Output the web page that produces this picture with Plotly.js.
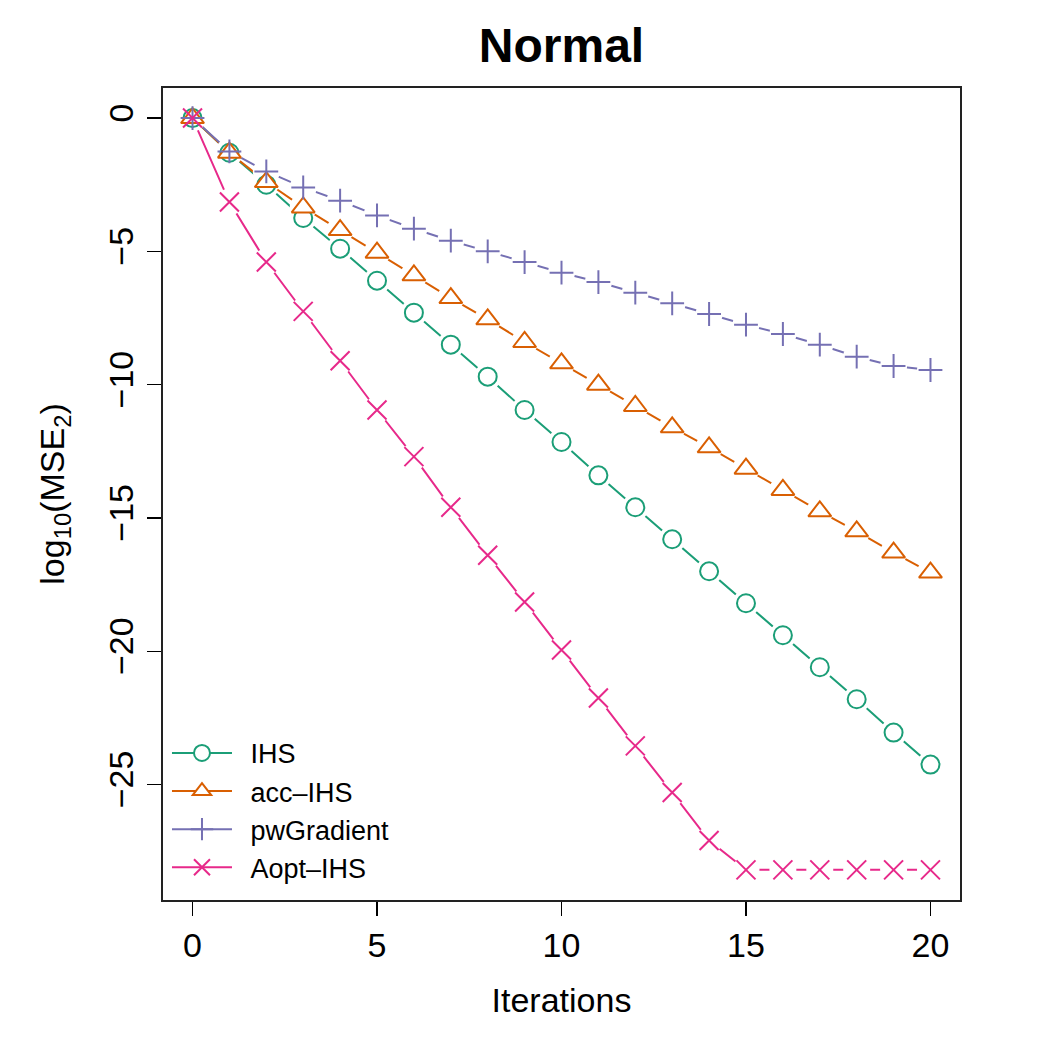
<!DOCTYPE html>
<html>
<head>
<meta charset="utf-8">
<script src="https://cdn.plot.ly/plotly-3.0.1.min.js"></script>
<style>
  html, body { margin: 0; padding: 0; background: #fff; }
  #chart { width: 1050px; height: 1050px; }
</style>
</head>
<body>
<div id="chart"></div>
<script>
// Iteration index
const iterations = [0,1,2,3,4,5,6,7,8,9,10,11,12,13,14,15,16,17,18,19,20];

// log10 of the MSE for each method
const ihs = [0,-1.3,-2.5,-3.75,-4.9,-6.1,-7.3,-8.5,-9.7,-10.95,-12.15,-13.4,-14.6,-15.8,-17.0,-18.2,-19.4,-20.6,-21.8,-23.05,-24.25];
const accIhs = [0,-1.3,-2.4,-3.35,-4.2,-5.05,-5.9,-6.75,-7.55,-8.4,-9.2,-10.0,-10.8,-11.6,-12.35,-13.15,-13.95,-14.75,-15.5,-16.3,-17.05];
const pwGradient = [0,-1.25,-2.0,-2.6,-3.1,-3.65,-4.15,-4.6,-5.0,-5.4,-5.8,-6.15,-6.55,-6.95,-7.35,-7.75,-8.1,-8.5,-8.95,-9.3,-9.45];
const aoptIhs = [0,-3.15,-5.4,-7.25,-9.1,-10.95,-12.7,-14.6,-16.4,-18.15,-19.95,-21.75,-23.55,-25.3,-27.1,-28.2,-28.2,-28.2,-28.2,-28.2,-28.2];

const seriesNames = ['IHS', 'acc\u2013IHS', 'pwGradient', 'Aopt\u2013IHS'];
const seriesValues = [ihs, accIhs, pwGradient, aoptIhs];
const seriesColors = ['#1B9E77', '#D95F02', '#7570B3', '#E7298A'];
const seriesSymbols = ['circle', 'triangle-up', 'cross-thin-open', 'x-thin-open'];
const symbolSizes = [18, 20, 17, 19];

const FONT = 'Liberation Sans, Arial, Helvetica, sans-serif';

function markerStyle(i) {
  const thin = seriesSymbols[i].indexOf('thin') >= 0;
  return {
    symbol: seriesSymbols[i],
    size: symbolSizes[i],
    color: thin ? seriesColors[i] : '#ffffff',
    line: { color: seriesColors[i], width: 2 }
  };
}

const traces = [];
// connecting lines, each followed by white gaps around its own points
seriesValues.forEach((vals, i) => {
  traces.push({
    x: iterations, y: vals, type: 'scatter', mode: 'lines',
    line: { color: seriesColors[i], width: 2 },
    showlegend: false, hoverinfo: 'skip'
  });
  traces.push({
    x: iterations, y: vals, type: 'scatter', mode: 'markers',
    marker: { symbol: 'circle', size: 27, color: '#ffffff', line: { width: 0 } },
    showlegend: false, hoverinfo: 'skip'
  });
});
// point symbols
seriesValues.forEach((vals, i) => {
  traces.push({
    x: iterations, y: vals, type: 'scatter', mode: 'markers',
    name: seriesNames[i], marker: markerStyle(i), showlegend: false
  });
});
// legend entries
seriesValues.forEach((vals, i) => {
  traces.push({
    x: [null], y: [null], type: 'scatter', mode: 'lines+markers',
    name: '\u2002' + seriesNames[i],
    line: { color: seriesColors[i], width: 2 },
    marker: markerStyle(i)
  });
});

const layout = {
  width: 1050, height: 1050,
  paper_bgcolor: '#ffffff', plot_bgcolor: '#ffffff',
  margin: { l: 163, r: 90, t: 88, b: 150 },
  font: { family: FONT, color: '#000', size: 34 },
  title: {
    text: '<b>Normal</b>',
    font: { family: FONT, size: 48, color: '#000' },
    x: 0.5, xanchor: 'center', xref: 'paper',
    y: 0.957, yanchor: 'middle', yref: 'container'
  },
  xaxis: {
    range: [-0.8, 20.8], tickmode: 'array', tickvals: [0,5,10,15,20],
    ticks: 'outside', ticklen: 14, tickwidth: 1.5, tickcolor: '#000',
    showline: true, linecolor: '#222', linewidth: 2, mirror: true,
    showgrid: false, zeroline: false,
    tickfont: { family: FONT, size: 34 },
    title: { text: 'Iterations', font: { family: FONT, size: 34 }, standoff: 25 }
  },
  yaxis: {
    range: [-29.33, 1.128], tickmode: 'array', tickvals: [0,-5,-10,-15,-20,-25],
    ticktext: ['0','\u22125','\u221210','\u221215','\u221220','\u221225'],
    tickangle: -90,
    ticks: 'outside', ticklen: 14, tickwidth: 1.5, tickcolor: '#000',
    showline: true, linecolor: '#222', linewidth: 2, mirror: true,
    showgrid: false, zeroline: false,
    tickfont: { family: FONT, size: 34 },
    title: { text: 'log<sub>10</sub>(MSE<sub>2</sub>)', font: { family: FONT, size: 34 }, standoff: 28 }
  },
  legend: {
    x: 0.005, xanchor: 'left', y: 0.01, yanchor: 'bottom',
    bgcolor: 'rgba(0,0,0,0)', borderwidth: 0,
    font: { family: FONT, size: 27, color: '#000' },
    itemwidth: 60, tracegroupgap: 0
  },
  showlegend: true
};

Plotly.newPlot('chart', traces, layout, { displayModeBar: false, staticPlot: true });
</script>
</body>
</html>
